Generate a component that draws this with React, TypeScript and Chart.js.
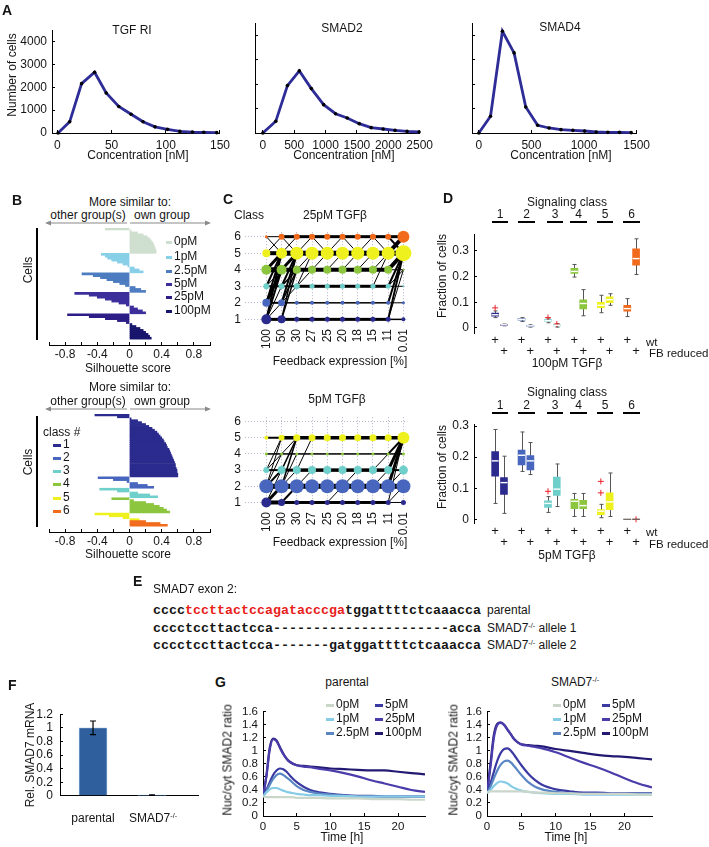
import React, { useEffect, useRef } from "react";
import { Chart, registerables } from "chart.js";

Chart.register(...registerables);

const SANS = '"Liberation Sans", Arial, Helvetica, sans-serif';
const MONO = '"Liberation Mono", "Courier New", monospace';
const INK = "#151515";

Chart.defaults.font.family = SANS;
Chart.defaults.font.size = 12;
Chart.defaults.color = INK;

// ---------------- Panel A data ----------------
const tgfConc = [0.6, 11.3, 22.3, 34.3, 45, 56.6, 68, 79, 90, 101.6, 113, 124.6, 135, 147];
const tgfCells = [0, 490, 2160, 2660, 1750, 1160, 820, 490, 270, 160, 70, 40, 30, 15];
const smad2Conc = [0, 206, 392, 582, 773, 969, 1160, 1345, 1536, 1727, 1918, 2108, 2299, 2490];
const smad2Cells = [0, 478, 1940, 2540, 1816, 1160, 790, 614, 382, 218, 164, 109, 68, 40];
const smad4Conc = [0, 111, 224, 335, 446, 559, 667, 781, 894, 1005, 1116, 1226, 1337, 1448];
const smad4Cells = [0, 683, 4164, 3276, 1065, 314, 205, 137, 109, 82, 41, 27, 27, 14];
const tgfTicks = [0, 50, 100, 150];
const smad2Ticks = [0, 500, 1000, 1500, 2000, 2500];
const smad4Ticks = [0, 500, 1000, 1500];
const cellTicks = [0, 1000, 2000, 3000, 4000];

// ---------------- Panel B data ----------------
const doseLabels = ["0pM", "1pM", "2.5pM", "5pM", "25pM", "100pM"];
const doseColors = ["#cfdfcf", "#88cfe8", "#4d7cc0", "#3c2f9c", "#2c1e86", "#17156c"];
const silDose0 = [-0.3, 0.02, 0.1, 0.17, 0.22, 0.25, 0.27, 0.29, 0.3, 0.31, 0.32, 0.33, 0.33];
const silDose1 = [-0.35, -0.3, -0.27, -0.22, -0.15, -0.08, -0.02, 0.06, 0.12, 0.17];
const silDose2_5 = [-0.59, -0.45, -0.36, -0.28, -0.2, -0.12, -0.05, 0.07, 0.14, 0.2];
const silDose5 = [-0.68, -0.5, -0.4, -0.3, -0.22, -0.13, -0.04, 0.05, 0.1, 0.16, 0.2];
const silDose25 = [-0.77, -0.5, -0.3, -0.15, -0.04];
const silDose100 = [0.03, 0.08, 0.13, 0.17, 0.2, 0.23, 0.25, 0.27];
const silTicks = [-1, -0.8, -0.6, -0.4, -0.2, 0, 0.2, 0.4, 0.6, 0.8, 1];
const silTickLabels = ["", "-0.8", "", "-0.4", "", "0", "", "0.4", "", "0.8", ""];

const classLabels = ["1", "2", "3", "4", "5", "6"];
const classColors = ["#2b2b8e", "#4866bd", "#6fcfca", "#8cc63e", "#eef11e", "#f26b1d"];
const silClass1 = [-0.43, -0.15, 0.02, 0.1, 0.15, 0.2, 0.24, 0.28, 0.31, 0.34, 0.36, 0.38, 0.4, 0.42, 0.43, 0.45, 0.46, 0.47, 0.49, 0.5, 0.51, 0.52, 0.53, 0.54, 0.55, 0.56, 0.57, 0.57, 0.58, 0.59, 0.59, 0.6, 0.6];
const silClass2 = [-0.39, -0.2, -0.03, 0.1, 0.22, 0.3];
const silClass3 = [-0.37, -0.15, 0.1, 0.25, 0.35];
const silClass4 = [-0.22, 0.05, 0.2, 0.3, 0.37, 0.42, 0.46, 0.5];
const silClass5 = [-0.43, -0.25, -0.08, 0.12];
const silClass6 = [0.2, 0.38, 0.47];

// ---------------- Panel C data ----------------
const feedbackLabels = ["100", "50", "30", "27", "25", "20", "18", "15", "11", "0.01"];
// node radius per class (1..6) per feedback level
const c25Radius = [
  [5, 4, 2.5, 2.5, 2.5, 2.5, 2.5, 2.5, 2.5, 2],
  [4, 3.5, 2, 2, 2, 2, 2, 2, 2, 1.5],
  [3, 3, 3, 2.5, 2.5, 2.5, 2.5, 2.5, 2.5, 1],
  [5, 5, 4, 4, 4, 4, 4, 4, 4, 1],
  [4, 5.5, 6.5, 6.5, 6.5, 6.5, 6.5, 6.5, 6.5, 8],
  [1.5, 3, 3, 3, 3, 3, 3, 3, 3, 6],
];
// width of same-class transitions between consecutive levels
const c25Stay = [
  [3, 3, 3, 3, 3, 3, 3, 3, 1.5],
  [2, 1.5, 1.5, 1.5, 1.5, 1.5, 1.5, 1.5, 1],
  [2, 2, 3, 3, 3, 3, 3, 3, 1],
  [5, 4, 4, 4, 4, 4, 4, 4, 1],
  [4, 5, 5, 5, 5, 5, 5, 5, 5],
  [1, 3, 3, 3, 3, 3, 3, 3, 3],
];
// class switches: [level, fromClass, toClass, width]
const c25Switch = [
  [0, 1, 3, 1], [0, 1, 4, 2], [0, 1, 5, 2], [0, 2, 4, 3], [0, 2, 5, 2], [0, 3, 5, 2], [0, 3, 4, 1], [0, 4, 5, 3], [0, 1, 2, 1], [0, 6, 5, 1], [0, 5, 6, 1],
  [1, 1, 4, 1.5], [1, 1, 5, 1.5], [1, 2, 4, 1.5], [1, 2, 5, 2], [1, 3, 5, 2], [1, 3, 4, 1.5], [1, 4, 5, 3], [1, 2, 3, 1], [1, 5, 6, 1], [1, 6, 5, 1],
  [2, 4, 5, 1], [2, 3, 4, 1], [2, 5, 6, 1], [2, 3, 5, 1],
  [3, 4, 5, 1], [3, 6, 5, 1],
  [4, 4, 5, 1], [4, 5, 6, 1],
  [5, 4, 5, 1], [5, 6, 5, 1],
  [6, 4, 5, 1], [6, 5, 6, 1],
  [7, 4, 5, 1], [7, 6, 5, 1], [7, 3, 5, 1],
  [8, 1, 5, 2], [8, 2, 5, 2], [8, 3, 5, 2], [8, 4, 5, 4], [8, 5, 6, 4], [8, 6, 5, 2], [8, 1, 4, 1], [8, 3, 4, 1],
];
const c5Radius = [
  [5, 3.5, 2.5, 2.5, 2.5, 2.5, 2.5, 2.5, 2.5, 2.5],
  [7, 7, 7, 7, 7, 7, 7, 7, 7, 7],
  [3, 4, 4, 4, 4, 4, 4, 4, 4, 4.5],
  [1.5, 1.5, 1.5, 1.5, 1.5, 1.5, 1.5, 1.5, 1.5, 1.5],
  [2, 3, 3.5, 3.5, 3.5, 3.5, 3.5, 3.5, 3.5, 6],
  [0, 0, 0, 0, 0, 0, 0, 0, 0, 0],
];
const c5Stay = [
  [4, 3, 3, 3, 3, 3, 3, 3, 1],
  [5, 5, 5, 5, 5, 5, 5, 5, 5],
  [2, 3, 3.5, 3.5, 3.5, 3.5, 3.5, 3.5, 2],
  [1.5, 1.5, 1.5, 1.5, 1.5, 1.5, 1.5, 1.5, 1.5],
  [2, 3.5, 3.5, 3.5, 3.5, 3.5, 3.5, 3.5, 3.5],
  [0, 0, 0, 0, 0, 0, 0, 0, 0],
];
const c5Switch = [
  [0, 1, 2, 3], [0, 1, 3, 1], [0, 2, 3, 2], [0, 2, 5, 1], [0, 3, 5, 1], [0, 2, 4, 1], [0, 3, 4, 1],
  [1, 1, 2, 2], [1, 2, 5, 1.5], [1, 3, 5, 1.5], [1, 2, 3, 1], [1, 2, 4, 1], [1, 4, 5, 1],
  [2, 3, 5, 1], [2, 2, 3, 1],
  [4, 1, 2, 1], [5, 2, 3, 1], [7, 2, 3, 1], [7, 3, 4, 1],
  [8, 1, 5, 1], [8, 2, 5, 3], [8, 3, 5, 3], [8, 4, 5, 2], [8, 2, 3, 1], [8, 1, 2, 1],
];

// ---------------- Panel D data ----------------
// order: class1 wt, class1 FB, class2 wt, class2 FB, ... class6 FB
const dPositions = [0, 1, 3, 4, 6, 7, 9, 10, 12, 13, 15, 16];
const dFractionTicks = [0, 0.1, 0.2, 0.3];
const d100Median = [0.051, 0.012, 0.033, 0.008, 0.028, 0.01, 0.22, 0.095, 0.088, 0.11, 0.075, 0.27];
const d100Q1 = [0.046, 0.01, 0.03, 0.006, 0.025, 0.008, 0.212, 0.074, 0.079, 0.098, 0.065, 0.244];
const d100Q3 = [0.058, 0.014, 0.036, 0.01, 0.032, 0.013, 0.232, 0.109, 0.1, 0.121, 0.088, 0.308];
const d100Low = [0.04, 0.008, 0.025, 0.003, 0.02, 0.003, 0.198, 0.047, 0.059, 0.088, 0.044, 0.208];
const d100High = [0.066, 0.015, 0.04, 0.012, 0.035, 0.016, 0.247, 0.149, 0.127, 0.133, 0.114, 0.347];
const d100Outliers = [[0, 0.078], [6, 0.04], [7, 0.015]];
const d5Median = [0.188, 0.118, 0.206, 0.188, 0.051, 0.097, 0.058, 0.044, 0.026, 0.056, 0, 0];
const d5Q1 = [0.139, 0.08, 0.175, 0.159, 0.038, 0.077, 0.034, 0.034, 0.015, 0.031, 0, 0];
const d5Q3 = [0.218, 0.134, 0.223, 0.205, 0.059, 0.136, 0.064, 0.061, 0.031, 0.085, 0, 0];
const d5Low = [0.051, 0.019, 0.154, 0.144, 0.022, 0.041, 0.009, 0.009, 0.005, 0.009, 0, 0];
const d5High = [0.289, 0.203, 0.281, 0.247, 0.073, 0.178, 0.083, 0.083, 0.048, 0.149, 0, 0];
const d5Outliers = [[6, 0.09], [12, 0.122], [12, 0.085], [16, 0]];

// ---------------- Panel E text ----------------
const seqPrefix = "cccc";
const seqGuide = "tccttactccagatacccga";
const seqSuffix = "tggattttctcaaacca";
const seqAllele1 = "cccctccttactcca----------------------acca";
const seqAllele2 = "cccctccttactcca-------gatggattttctcaaacca";

// ---------------- Panel F data ----------------
const fPositions = [1, 2];
const fMean = [1.0, 0.01];
const fError = [0.1, 0.004];
const fTicks = [0, 0.2, 0.4, 0.6, 0.8, 1, 1.2];

// ---------------- Panel G data ----------------
const gTime = [0, 0.5, 1, 1.5, 2, 2.5, 3, 3.5, 4, 5, 6, 7, 8, 10, 12, 14, 16, 18, 20, 22, 24];
const gTimeTicks = [0, 5, 10, 15, 20];
const gRatioTicks = [0, 0.2, 0.4, 0.6, 0.8, 1, 1.2, 1.4, 1.6];
const gColors = ["#c9d6c9", "#86cce6", "#5a86c4", "#3a3aa2", "#4a3cab", "#221a72"];
const par0 = [0.3, 0.29, 0.29, 0.29, 0.29, 0.29, 0.29, 0.29, 0.29, 0.28, 0.28, 0.28, 0.28, 0.27, 0.27, 0.27, 0.26, 0.26, 0.26, 0.25, 0.25];
const par1 = [0.3, 0.36, 0.41, 0.43, 0.43, 0.41, 0.39, 0.37, 0.36, 0.34, 0.33, 0.32, 0.32, 0.31, 0.31, 0.3, 0.3, 0.3, 0.3, 0.3, 0.3];
const par2_5 = [0.3, 0.38, 0.48, 0.57, 0.63, 0.65, 0.63, 0.59, 0.55, 0.46, 0.4, 0.37, 0.35, 0.33, 0.31, 0.3, 0.3, 0.3, 0.3, 0.3, 0.3];
const par5 = [0.3, 0.4, 0.52, 0.63, 0.7, 0.73, 0.72, 0.68, 0.62, 0.52, 0.45, 0.4, 0.37, 0.34, 0.32, 0.31, 0.31, 0.3, 0.3, 0.3, 0.3];
const par25 = [0.3, 0.6, 1.02, 1.18, 1.15, 1.05, 0.95, 0.88, 0.83, 0.78, 0.76, 0.75, 0.73, 0.7, 0.66, 0.61, 0.55, 0.5, 0.45, 0.4, 0.37];
const par100 = [0.3, 0.62, 1.05, 1.19, 1.16, 1.06, 0.96, 0.88, 0.83, 0.78, 0.77, 0.76, 0.75, 0.73, 0.72, 0.71, 0.7, 0.7, 0.68, 0.66, 0.64];
const ko0 = [0.36, 0.38, 0.38, 0.38, 0.38, 0.38, 0.38, 0.38, 0.38, 0.38, 0.37, 0.36, 0.36, 0.35, 0.35, 0.34, 0.34, 0.34, 0.34, 0.33, 0.33];
const ko1 = [0.35, 0.4, 0.46, 0.51, 0.53, 0.52, 0.5, 0.46, 0.43, 0.39, 0.37, 0.36, 0.35, 0.34, 0.34, 0.33, 0.33, 0.33, 0.33, 0.33, 0.33];
const ko2_5 = [0.35, 0.45, 0.58, 0.7, 0.79, 0.84, 0.85, 0.82, 0.76, 0.63, 0.52, 0.45, 0.41, 0.37, 0.35, 0.34, 0.34, 0.34, 0.34, 0.34, 0.34];
const ko5 = [0.35, 0.5, 0.68, 0.85, 0.97, 1.03, 1.04, 1.0, 0.93, 0.78, 0.65, 0.55, 0.48, 0.41, 0.38, 0.36, 0.36, 0.35, 0.35, 0.35, 0.35];
const ko25 = [0.35, 0.75, 1.2, 1.4, 1.43, 1.4, 1.33, 1.25, 1.17, 1.1, 1.08, 1.06, 1.04, 0.98, 0.9, 0.82, 0.75, 0.67, 0.58, 0.5, 0.44];
const ko100 = [0.35, 0.8, 1.25, 1.42, 1.44, 1.4, 1.32, 1.25, 1.18, 1.1, 1.09, 1.08, 1.07, 1.03, 1.0, 0.97, 0.94, 0.92, 0.91, 0.89, 0.87];

// ---------------- helpers ----------------
const fmt = (v: any) => String(Math.round(Number(v) * 100) / 100);

function linAxis(min: number, max: number, ticks: number[], extra: any = {}) {
  return {
    type: "linear",
    min,
    max,
    afterBuildTicks: (s: any) => { s.ticks = ticks.map((v) => ({ value: v })); },
    ticks: { padding: 8, callback: fmt, maxRotation: 0, minRotation: 0, autoSkip: false, ...(extra.ticks || {}) },
    grid: { display: true, drawOnChartArea: false, drawTicks: true, tickLength: -3, color: "#000", tickWidth: 1, ...(extra.grid || {}) },
    border: { display: true, color: "#000", width: 1, ...(extra.border || {}) },
  };
}

function ChartBox({ plot, m, make }: any) {
  const ref = useRef<HTMLCanvasElement | null>(null);
  const w = plot.r - plot.l + m.l + m.r;
  const h = plot.b - plot.t + m.t + m.b;
  useEffect(() => {
    const cfg = make();
    const o = cfg.options || (cfg.options = {});
    o.animation = false;
    o.responsive = false;
    o.maintainAspectRatio = false;
    o.devicePixelRatio = 1;
    o.events = [];
    o.layout = { padding: { left: 0, top: m.t, right: m.r, bottom: 0 } };
    o.plugins = { legend: { display: false }, tooltip: { enabled: false }, ...(o.plugins || {}) };
    o.scales.x.afterFit = (s: any) => { s.height = m.b; };
    o.scales.y.afterFit = (s: any) => { s.width = m.l; };
    const chart = new Chart(ref.current as HTMLCanvasElement, cfg);
    return () => chart.destroy();
  }, []);
  return (
    <canvas
      ref={ref}
      width={w}
      height={h}
      style={{ position: "absolute", left: plot.l - m.l, top: plot.t - m.t, width: w, height: h }}
    />
  );
}

function T({ x, y, a = "l", s = 12, b = false, r = false, mono = false, color = INK, children }: any) {
  const tx = a === "c" ? "-50%" : a === "r" ? "-100%" : "0";
  return (
    <div
      style={{
        position: "absolute",
        left: x,
        top: y,
        transform: `translate(${r ? "-50%" : tx}, -50%)${r ? " rotate(-90deg)" : ""}`,
        whiteSpace: "nowrap",
        fontSize: s,
        fontWeight: b ? "bold" : "normal",
        fontFamily: mono ? MONO : SANS,
        color,
        lineHeight: 1.1,
      }}
    >
      {children}
    </div>
  );
}

function HL({ x1, x2, y, w = 1, c = "#000" }: any) {
  return <div style={{ position: "absolute", left: x1, top: y - w / 2, width: x2 - x1, height: w, background: c }} />;
}
function VL({ x, y1, y2, w = 1, c = "#000" }: any) {
  return <div style={{ position: "absolute", left: x - w / 2, top: y1, width: w, height: y2 - y1, background: c }} />;
}
function Arrow({ x1, x2, y }: any) {
  const d = Math.sign(x2 - x1);
  return (
    <svg style={{ position: "absolute", left: 0, top: 0, overflow: "visible" }} width={1} height={1}>
      <line x1={x1} y1={y} x2={x2 - d * 4} y2={y} stroke="#8a8a8a" strokeWidth={1.2} />
      <polygon points={`${x2},${y} ${x2 - d * 6},${y - 2.6} ${x2 - d * 6},${y + 2.6}`} fill="#8a8a8a" />
    </svg>
  );
}
const Sup = ({ children }: any) => (
  <sup style={{ fontSize: "0.6em", verticalAlign: "0.55em", lineHeight: 0 }}>{children}</sup>
);

// ---------------- chart configs ----------------
function concConfig(xs: number[], ys: number[], xmin: number, xmax: number, xticks: number[], showY: boolean) {
  return {
    type: "line",
    data: {
      datasets: [
        {
          data: xs.map((x, i) => ({ x, y: ys[i] })),
          borderColor: "#2e2c96",
          borderWidth: 2.8,
          pointRadius: 1.8,
          pointBackgroundColor: "#000",
          pointBorderWidth: 0,
          tension: 0,
          clip: false,
        },
      ],
    },
    options: {
      scales: {
        x: linAxis(xmin, xmax, xticks),
        y: linAxis(0, 4500, cellTicks, { ticks: { display: showY } }),
      },
    },
  };
}

function silConfig(groups: number[][], colors: string[], blank: number) {
  const vals: (number | null)[] = [];
  const cols: string[] = [];
  groups.forEach((g, gi) => g.forEach((v) => { vals.push(v); cols.push(colors[gi]); }));
  for (let i = 0; i < blank; i++) { vals.push(null); cols.push("rgba(0,0,0,0)"); }
  return {
    type: "bar",
    data: {
      labels: vals.map((_, i) => String(i)),
      datasets: [{ data: vals, backgroundColor: cols, barPercentage: 1, categoryPercentage: 1, borderWidth: 0 }],
    },
    options: {
      indexAxis: "y",
      scales: {
        x: linAxis(-1, 1, silTicks, {
          ticks: { padding: 5, callback: (v: any, i: number) => silTickLabels[i] },
        }),
        y: { type: "category", ticks: { display: false }, grid: { display: false }, border: { display: false } },
      },
    },
  };
}

function netConfig(radius: number[][], stay: number[][], switches: number[][]) {
  const datasets: any[] = [];
  radius.forEach((row, k) => {
    datasets.push({
      type: "bubble",
      data: row.map((r, c) => ({ x: c, y: k + 1, r })),
      backgroundColor: classColors[k],
      borderWidth: 0,
      order: 0,
      clip: false,
    });
  });
  const edge = (c: number, a: number, b: number, w: number) => ({
    type: "line",
    data: [{ x: c, y: a }, { x: c + 1, y: b }],
    borderColor: "#000",
    borderWidth: w,
    pointRadius: 0,
    order: 1,
    clip: false,
  });
  stay.forEach((row, k) => row.forEach((w, c) => { if (w > 0) datasets.push(edge(c, k + 1, k + 1, w)); }));
  switches.forEach(([c, a, b, w]) => datasets.push(edge(c, a, b, w)));
  const gridC = "rgba(120,120,160,0.55)";
  return {
    type: "bubble",
    data: { datasets },
    options: {
      scales: {
        x: {
          type: "linear",
          min: -1.4,
          max: 9.25,
          afterBuildTicks: (s: any) => { s.ticks = feedbackLabels.map((_, i) => ({ value: i })); },
          ticks: { autoSkip: false, minRotation: 90, maxRotation: 90, padding: 5, callback: (v: any) => feedbackLabels[v] },
          grid: { color: gridC, drawTicks: false, lineWidth: 1 },
          border: { display: false, dash: [1, 2] },
        },
        y: {
          type: "linear",
          min: 0.72,
          max: 6.27,
          afterBuildTicks: (s: any) => { s.ticks = classLabels.map((_, i) => ({ value: i + 1 })); },
          ticks: { padding: 4, callback: (v: any) => String(v) },
          grid: { color: gridC, drawTicks: false, lineWidth: 1 },
          border: { display: false, dash: [1, 2] },
        },
      },
    },
  };
}

function boxPlugin(med: number[], q1: number[], q3: number[], lo: number[], hi: number[]) {
  return {
    id: "boxParts",
    beforeDatasetsDraw(chart: any) {
      const { ctx, scales } = chart;
      const x = scales.x, y = scales.y;
      ctx.save();
      ctx.strokeStyle = "#555";
      ctx.lineWidth = 1;
      dPositions.forEach((p, i) => {
        if (hi[i] === lo[i]) return;
        const px = Math.round(x.getPixelForValue(p)) + 0.5;
        const yh = y.getPixelForValue(hi[i]);
        const yl = y.getPixelForValue(lo[i]);
        ctx.beginPath();
        ctx.moveTo(px, yh); ctx.lineTo(px, yl);
        ctx.moveTo(px - 2, yh); ctx.lineTo(px + 2, yh);
        ctx.moveTo(px - 2, yl); ctx.lineTo(px + 2, yl);
        ctx.stroke();
      });
      ctx.restore();
    },
    afterDatasetsDraw(chart: any) {
      const { ctx, scales } = chart;
      const x = scales.x, y = scales.y;
      ctx.save();
      dPositions.forEach((p, i) => {
        const px = x.getPixelForValue(p);
        const py = y.getPixelForValue(med[i]);
        const flat = q1[i] === q3[i];
        ctx.strokeStyle = flat ? "#666" : "#fff";
        ctx.lineWidth = flat ? 1.2 : 1.4;
        ctx.beginPath();
        ctx.moveTo(px - (flat ? 4 : 3.5), py);
        ctx.lineTo(px + (flat ? 4 : 3.5), py);
        ctx.stroke();
      });
      ctx.restore();
    },
  };
}

function boxConfig(med: number[], q1: number[], q3: number[], lo: number[], hi: number[], outliers: number[][], ymin: number, ymax: number, plusPad: number) {
  return {
    type: "bar",
    data: {
      datasets: [
        {
          type: "bar",
          data: dPositions.map((x, i) => ({ x, y: [q1[i], q3[i]] })),
          backgroundColor: dPositions.map((_, i) => classColors[Math.floor(i / 2)]),
          barThickness: 7,
          borderWidth: 0,
          order: 1,
        },
        {
          type: "scatter",
          data: outliers.map(([x, y]) => ({ x, y })),
          pointStyle: "cross",
          pointRadius: 3,
          borderColor: "#e8222a",
          borderWidth: 1,
          order: 0,
          clip: false,
        },
      ],
    },
    options: {
      scales: {
        x: {
          type: "linear",
          min: -2.4,
          max: 16.9,
          offset: false,
          afterBuildTicks: (s: any) => { s.ticks = dPositions.map((v) => ({ value: v })); },
          ticks: {
            autoSkip: false,
            maxRotation: 0,
            minRotation: 0,
            padding: plusPad,
            font: { size: 13, lineHeight: "11px" },
            callback: (v: any) => (Number(v) % 3 === 0 ? ["+", ""] : ["", "+"]),
          },
          grid: { display: false },
          border: { display: false },
        },
        y: linAxis(ymin, ymax, dFractionTicks),
      },
    },
    plugins: [boxPlugin(med, q1, q3, lo, hi)],
  };
}

function barConfig() {
  const errPlugin = {
    id: "errBars",
    afterDatasetsDraw(chart: any) {
      const { ctx, scales } = chart;
      ctx.save();
      ctx.strokeStyle = "#000";
      ctx.lineWidth = 1.2;
      fPositions.forEach((p, i) => {
        const px = scales.x.getPixelForValue(p);
        const yh = scales.y.getPixelForValue(fMean[i] + fError[i]);
        const yl = scales.y.getPixelForValue(fMean[i] - fError[i]);
        ctx.beginPath();
        ctx.moveTo(px, yh); ctx.lineTo(px, yl);
        ctx.moveTo(px - 3, yh); ctx.lineTo(px + 3, yh);
        ctx.moveTo(px - 3, yl); ctx.lineTo(px + 3, yl);
        ctx.stroke();
      });
      ctx.restore();
    },
  };
  return {
    type: "bar",
    data: {
      datasets: [
        {
          data: fPositions.map((x, i) => ({ x, y: fMean[i] })),
          backgroundColor: "#2f5f9c",
          borderColor: "#9fc0e4",
          borderWidth: 0.8,
          barThickness: 28,
        },
      ],
    },
    options: {
      scales: {
        x: { type: "linear", min: 0.44, max: 2.78, offset: false, ticks: { display: false }, grid: { display: false }, border: { display: true, color: "#000" } },
        y: linAxis(0, 1.2, fTicks, { ticks: { padding: 10 } }),
      },
    },
    plugins: [errPlugin],
  };
}

function timeConfig(series: number[][]) {
  return {
    type: "line",
    data: {
      datasets: series.map((s, i) => ({
        data: gTime.map((t, j) => ({ x: t, y: s[j] })),
        borderColor: gColors[i],
        borderWidth: 2.2,
        pointRadius: 0,
        cubicInterpolationMode: "monotone",
      })),
    },
    options: {
      scales: {
        x: linAxis(0, 24, gTimeTicks, { ticks: { font: { size: 11.5 }, padding: 7 } }),
        y: linAxis(0, 1.6, gRatioTicks, { ticks: { font: { size: 11.5 }, padding: 8 } }),
      },
    },
  };
}

// ---------------- layout ----------------
export default function App() {
  const legendTop = doseLabels.map((lab, i) => ({ lab, c: doseColors[i], y: [242, 257, 271, 284, 297, 311][i] }));
  const legendBottom = classLabels.map((lab, i) => ({ lab, c: classColors[i], y: [445, 458, 471, 484, 498, 511][i] }));
  const dNumX = [500, 526.5, 555, 578.5, 605, 631.5];
  const dLineX = [[492, 508], [518, 535], [547, 563], [570, 587], [597, 613], [623, 640]];
  const gLeg = (cx1: number, cx2: number) =>
    doseLabels.map((lab, i) => {
      const col = i < 3 ? 0 : 1;
      const row = i % 3;
      const sx = col === 0 ? cx1 : cx2;
      const y = [705, 719, 733][row];
      return (
        <React.Fragment key={lab + cx1}>
          <HL x1={sx} x2={sx + 8} y={y} w={3} c={gColors[i]} />
          <T x={sx + 10} y={y} s={12}>{lab}</T>
        </React.Fragment>
      );
    });

  return (
    <div style={{ position: "absolute", left: 0, top: 0, width: 709, height: 847, background: "#fff", overflow: "hidden", fontFamily: SANS, color: INK }}>
      {/* ---------- A ---------- */}
      <ChartBox plot={{ l: 52, t: 23, r: 222, b: 133 }} m={{ l: 40, t: 8, r: 16, b: 22 }} make={() => concConfig(tgfConc, tgfCells, -5, 150, tgfTicks, true)} />
      <ChartBox plot={{ l: 255, t: 23, r: 425, b: 133 }} m={{ l: 6, t: 8, r: 16, b: 22 }} make={() => concConfig(smad2Conc, smad2Cells, -125, 2500, smad2Ticks, false)} />
      <ChartBox plot={{ l: 472, t: 23, r: 642, b: 133 }} m={{ l: 6, t: 8, r: 16, b: 22 }} make={() => concConfig(smad4Conc, smad4Cells, -65, 1500, smad4Ticks, false)} />
      <T x={2} y={11} s={14} b>A</T>
      <T x={132} y={31} a="c">TGF RI</T>
      <T x={342} y={29} a="c">SMAD2</T>
      <T x={560} y={28} a="c">SMAD4</T>
      <T x={13} y={75} r>Number of cells</T>
      <T x={138} y={156} a="c">Concentration [nM]</T>
      <T x={344} y={156} a="c">Concentration [nM]</T>
      <T x={561} y={156} a="c">Concentration [nM]</T>

      {/* ---------- B ---------- */}
      <ChartBox
        plot={{ l: 46, t: 228, r: 210, b: 345 }}
        m={{ l: 2, t: 2, r: 10, b: 20 }}
        make={() => silConfig([silDose0, silDose1, silDose2_5, silDose5, silDose25, silDose100], doseColors, 3)}
      />
      <ChartBox
        plot={{ l: 46, t: 414, r: 210, b: 532 }}
        m={{ l: 2, t: 2, r: 10, b: 20 }}
        make={() => silConfig([silClass1, silClass2, silClass3, silClass4, silClass5, silClass6], classColors, 3)}
      />
      <T x={12} y={201} s={14} b>B</T>
      <T x={130} y={203} a="c">More similar to:</T>
      <T x={88} y={216} a="c">other group(s)</T>
      <T x={162} y={216} a="c">own group</T>
      <Arrow x1={127} x2={45} y={223} />
      <Arrow x1={130} x2={211} y={223} />
      <VL x={37} y1={228} y2={340} w={1.2} />
      <T x={29} y={270} r>Cells</T>
      <T x={128} y={369} a="c">Silhouette score</T>
      {legendTop.map((it) => (
        <React.Fragment key={it.lab}>
          <HL x1={166} x2={172} y={it.y} w={3} c={it.c} />
          <T x={174} y={it.y}>{it.lab}</T>
        </React.Fragment>
      ))}
      <T x={130} y={388} a="c">More similar to:</T>
      <T x={88} y={402} a="c">other group(s)</T>
      <T x={162} y={402} a="c">own group</T>
      <Arrow x1={127} x2={45} y={409} />
      <Arrow x1={130} x2={211} y={409} />
      <VL x={37} y1={416} y2={527} w={1.2} />
      <T x={29} y={462} r>Cells</T>
      <T x={128} y={555} a="c">Silhouette score</T>
      <T x={43} y={433}>class #</T>
      {legendBottom.map((it) => (
        <React.Fragment key={"c" + it.lab}>
          <HL x1={53} x2={61} y={it.y} w={3} c={it.c} />
          <T x={63} y={it.y}>{it.lab}</T>
        </React.Fragment>
      ))}

      {/* ---------- C ---------- */}
      <ChartBox plot={{ l: 245, t: 223, r: 419, b: 324 }} m={{ l: 14, t: 2, r: 4, b: 32 }} make={() => netConfig(c25Radius, c25Stay, c25Switch)} />
      <ChartBox plot={{ l: 245, t: 408, r: 419, b: 507 }} m={{ l: 14, t: 2, r: 4, b: 32 }} make={() => netConfig(c5Radius, c5Stay, c5Switch)} />
      <T x={223} y={200} s={14} b>C</T>
      <T x={249} y={216} a="c">Class</T>
      <T x={335} y={216} a="c">25pM TGFβ</T>
      <T x={340} y={362} a="c">Feedback expression [%]</T>
      <T x={337} y={400} a="c">5pM TGFβ</T>
      <T x={340} y={543} a="c">Feedback expression [%]</T>

      {/* ---------- D ---------- */}
      <ChartBox
        plot={{ l: 474, t: 225, r: 645, b: 333 }}
        m={{ l: 30, t: 6, r: 4, b: 30 }}
        make={() => boxConfig(d100Median, d100Q1, d100Q3, d100Low, d100High, d100Outliers, -0.02, 0.365, -6)}
      />
      <ChartBox
        plot={{ l: 474, t: 415, r: 645, b: 523 }}
        m={{ l: 30, t: 6, r: 4, b: 30 }}
        make={() => boxConfig(d5Median, d5Q1, d5Q3, d5Low, d5High, d5Outliers, -0.012, 0.306, -5)}
      />
      <T x={443} y={199} s={14} b>D</T>
      <T x={567} y={203} a="c">Signaling class</T>
      <T x={567} y={393} a="c">Signaling class</T>
      {classLabels.map((lab, i) => (
        <React.Fragment key={"d" + lab}>
          <T x={dNumX[i]} y={215} a="c">{lab}</T>
          <HL x1={dLineX[i][0]} x2={dLineX[i][1]} y={222} w={1.2} />
          <T x={dNumX[i]} y={406} a="c">{lab}</T>
          <HL x1={dLineX[i][0]} x2={dLineX[i][1]} y={413} w={1.2} />
        </React.Fragment>
      ))}
      <T x={443} y={276} r>Fraction of cells</T>
      <T x={443} y={467} r>Fraction of cells</T>
      <T x={646} y={342} s={11.5}>wt</T>
      <T x={649} y={353} s={11.5}>FB reduced</T>
      <T x={646} y={532} s={11.5}>wt</T>
      <T x={649} y={544} s={11.5}>FB reduced</T>
      <T x={567} y={364} a="c">100pM TGFβ</T>
      <T x={567} y={556} a="c">5pM TGFβ</T>

      {/* ---------- E ---------- */}
      <T x={133} y={582} s={14} b>E</T>
      <T x={153} y={590}>SMAD7 exon 2:</T>
      <T x={153} y={611} mono b s={13.33}>
        {seqPrefix}
        <span style={{ color: "#e8201a" }}>{seqGuide}</span>
        {seqSuffix}
      </T>
      <T x={153} y={629} mono b s={13.33}>{seqAllele1}</T>
      <T x={153} y={646} mono b s={13.33}>{seqAllele2}</T>
      <T x={487} y={611}>parental</T>
      <T x={487} y={629}>SMAD7<Sup>-/-</Sup> allele 1</T>
      <T x={487} y={646}>SMAD7<Sup>-/-</Sup> allele 2</T>

      {/* ---------- F ---------- */}
      <ChartBox plot={{ l: 60, t: 705, r: 198, b: 809 }} m={{ l: 40, t: 8, r: 6, b: 4 }} make={barConfig} />
      <T x={8} y={686} s={14} b>F</T>
      <T x={31} y={755} r>Rel. SMAD7 mRNA</T>
      <T x={93} y={819} a="c">parental</T>
      <T x={153} y={819} a="c">SMAD7<Sup>-/-</Sup></T>

      {/* ---------- G ---------- */}
      <ChartBox plot={{ l: 263, t: 705, r: 425, b: 816 }} m={{ l: 34, t: 8, r: 10, b: 18 }} make={() => timeConfig([par0, par1, par2_5, par5, par25, par100])} />
      <ChartBox plot={{ l: 487, t: 705, r: 652, b: 816 }} m={{ l: 34, t: 8, r: 10, b: 18 }} make={() => timeConfig([ko0, ko1, ko2_5, ko5, ko25, ko100])} />
      <T x={215} y={683} s={14} b>G</T>
      <T x={347} y={683} a="c">parental</T>
      <T x={575} y={683} a="c">SMAD7<Sup>-/-</Sup></T>
      <T x={228} y={760} r>Nuc/cyt SMAD2 ratio</T>
      <T x={454} y={760} r>Nuc/cyt SMAD2 ratio</T>
      <T x={342} y={838} a="c">Time [h]</T>
      <T x={566} y={838} a="c">Time [h]</T>
      {gLeg(326, 375)}
      {gLeg(553, 602)}
    </div>
  );
}
